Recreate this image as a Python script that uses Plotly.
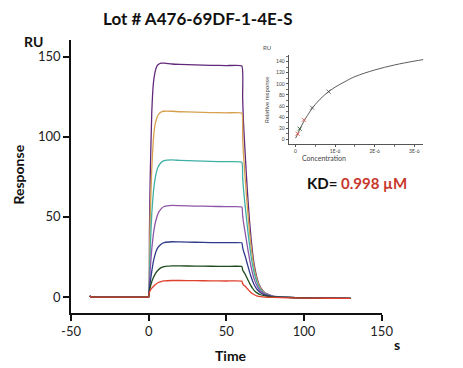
import plotly.graph_objects as go

# ---------------- data ----------------
time = [-38, -37, -20, -1, 0, 0.5, 1, 2, 3, 4, 5, 6, 8, 10, 15, 20, 30, 40, 50, 60,
        60.5, 61, 62, 63, 64, 65, 66, 67, 68, 70, 72, 75, 80, 90, 100, 115, 130]

base = [0.6, 0.0, -0.1, -0.1]
series_names = ["3.33 µM", "1.67 µM", "0.833 µM", "0.417 µM", "0.208 µM", "0.104 µM", "0.052 µM"]
resp_purple = base + [0, 40, 75, 115, 133, 140, 143.5, 145, 146, 146, 145.5, 145.3, 145, 144.7, 144.5, 144.3,
                      125, 110, 92, 75, 60, 47, 36, 27, 20, 11, 6, 2.5, 0.5, -0.3, -0.6, -0.8, -0.9]
resp_orange = base + [0, 25, 50, 80, 98, 107, 111, 113.5, 115.5, 116, 116, 115.7, 115.5, 115.2, 115, 114.8,
                      100, 90, 76, 63, 51, 40, 31, 24, 18, 10, 5.5, 2.2, 0.4, -0.3, -0.6, -0.8, -0.9]
resp_teal = base + [0, 15, 30, 52, 65, 73, 78, 81, 84, 85.2, 85.6, 85.3, 85, 84.7, 84.5, 84.2,
                    75, 68, 58, 49, 40, 32, 25, 19.5, 15, 8.5, 4.8, 2, 0.4, -0.3, -0.6, -0.8, -0.9]
resp_violet = base + [0, 8, 17, 30, 39, 45, 49, 52, 55, 56.5, 57.2, 57, 56.8, 56.6, 56.4, 56.2,
                      51, 47, 41, 35, 29, 23.5, 18.5, 14.5, 11, 6.5, 3.7, 1.6, 0.3, -0.3, -0.6, -0.8, -0.9]
resp_blue = base + [0, 5, 9, 16, 22, 26, 29, 31, 33, 34, 34.5, 34.4, 34.2, 34, 33.9, 33.8,
                    31, 29, 26, 22.5, 19, 15.5, 12.5, 9.8, 7.5, 4.5, 2.6, 1.2, 0.2, -0.3, -0.6, -0.8, -0.9]
resp_green = base + [0, 4, 6, 9.5, 12, 14, 15.5, 16.7, 18.3, 19, 19.4, 19.4, 19.3, 19.2, 19.1, 19,
                     17, 16, 14.5, 12.5, 10.5, 8.5, 6.8, 5.3, 4, 2.4, 1.4, 0.7, 0.1, -0.3, -0.6, -0.8, -0.9]
resp_red = base + [0, 3, 4, 5.5, 6.5, 7.5, 8.3, 8.9, 9.6, 10, 10.3, 10.3, 10.2, 10.1, 10, 9.9,
                   8.5, 7.5, 6.8, 5.8, 4.7, 3.6, 2.7, 2, 1.4, 0.6, 0.2, -0.1, -0.3, -0.5, -0.7, -0.8, -0.9]

# inset: steady-state fit
fit_conc = [0, 0.05e-6, 0.1e-6, 0.2e-6, 0.3e-6, 0.5e-6, 0.75e-6, 1.0e-6, 1.25e-6, 1.5e-6,
            2.0e-6, 2.5e-6, 3.0e-6, 3.25e-6]
fit_resp = [2, 9, 17, 31, 43, 63, 81, 94, 104, 113, 125, 134, 141, 144]
pt_conc = [0.052e-6, 0.104e-6, 0.208e-6, 0.417e-6, 0.833e-6]
pt_resp = [10, 19, 35, 57, 86]

y_ticks = [0, 50, 100, 150]
x_ticks = [-50, 0, 50, 100, 150]
x_tick_labels = ["-50", "0", "50", "100", "150"]
inset_y_ticks = [0, 20, 40, 60, 80, 100, 120, 140]
inset_x_ticks = [0, 1e-6, 2e-6, 3e-6]
inset_x_labels = ["0", "1E-6", "2E-6", "3E-6"]

colors = ["#62287a", "#d6a04e", "#3fb0a6", "#8c55a8", "#2e3a8a", "#1d4a1d", "#e0402c"]
all_resp = [resp_purple, resp_orange, resp_teal, resp_violet, resp_blue, resp_green, resp_red]

# ---------------- layout helpers ----------------
W, H = 463, 368
ML, MR, MT, MB = 71, 20, 40, 55
PW, PH = W - ML - MR, H - MT - MB


def px(x):
    return (x - ML) / PW


def py(y):
    return (H - MB - y) / PH


fig = go.Figure()
for name, r, c in zip(series_names, all_resp, colors):
    fig.add_trace(go.Scatter(x=time, y=r, mode="lines", name=name,
                             line=dict(color=c, width=1.3, shape="spline", smoothing=0.4),
                             xaxis="x", yaxis="y", showlegend=False))

fig.add_trace(go.Scatter(x=fit_conc, y=fit_resp, mode="lines", line=dict(color="#333", width=0.8, shape="spline"),
                         xaxis="x2", yaxis="y2", showlegend=False))
fig.add_trace(go.Scatter(x=pt_conc, y=pt_resp, mode="markers",
                         marker=dict(symbol="x-thin", size=4, line=dict(width=0.8, color=["#e0402c", "#1d4a1d", "#e05050", "#555", "#444"])),
                         xaxis="x2", yaxis="y2", showlegend=False))

font_main = "Lato, 'Open Sans', sans-serif"

fig.update_layout(
    width=W, height=H,
    margin=dict(l=ML, r=MR, t=MT, b=MB),
    paper_bgcolor="white", plot_bgcolor="white",
    font=dict(family=font_main, color="#222", size=13),
    xaxis=dict(domain=[0, px(385)], range=[-50, 150], tickvals=x_ticks, ticktext=x_tick_labels,
               showgrid=False, zeroline=False,
               showline=True, linecolor="#111", linewidth=1.5, ticks="outside", ticklen=6, tickwidth=1.5,
               tickcolor="#111", tickfont=dict(size=13, color="#222")),
    yaxis=dict(domain=[0, 1], range=[-10, 160.5], tickvals=y_ticks, showgrid=False, zeroline=False,
               showline=True, linecolor="#111", linewidth=1.5, ticks="outside", ticklen=6, tickwidth=1.5,
               tickcolor="#111", tickfont=dict(size=13, color="#222")),
    xaxis2=dict(domain=[px(291), px(427)], anchor="y2", range=[-0.175e-6, 3.225e-6],
                tickvals=inset_x_ticks, ticktext=inset_x_labels, showgrid=False, zeroline=False,
                showline=True, linecolor="#555", linewidth=0.8, ticks="outside", ticklen=2, tickwidth=0.6,
                tickcolor="#555", tickfont=dict(size=5, color="#444"),
                minor=dict(dtick=0.5e-6, ticks="outside", ticklen=2, tickcolor="#777", tickwidth=0.5)),
    yaxis2=dict(domain=[py(144), py(55)], anchor="x2", range=[-8.5, 152],
                tickvals=inset_y_ticks, showgrid=False, zeroline=False,
                showline=True, linecolor="#555", linewidth=0.8, ticks="outside", ticklen=2, tickwidth=0.6,
                tickcolor="#555", tickfont=dict(size=5, color="#444"),
                minor=dict(dtick=10, ticks="outside", ticklen=1.5, tickcolor="#777", tickwidth=0.5)),
)

ann = [
    dict(text="<b>Lot # A476-69DF-1-4E-S</b>", x=px(199), y=py(18), size=17, color="#111"),
    dict(text="<b>RU</b>", x=px(33), y=py(41), size=14, color="#111"),
    dict(text="<b>Time</b>", x=px(233), y=py(355), size=14, color="#111"),
    dict(text="<b>s</b>", x=px(401), y=py(344), size=14, color="#111"),
    dict(text="<b>KD= <span style='color:#c8372d'>0.998 µM</span></b>", x=px(360), y=py(183), size=15, color="#111"),
    dict(text="RU", x=px(269), y=py(47), size=6, color="#555"),
    dict(text="Concentration", x=px(327), y=py(158), size=7, color="#444"),
]
for a in ann:
    fig.add_annotation(text=a["text"], x=a["x"], y=a["y"], xref="paper", yref="paper",
                       showarrow=False, xanchor="center", yanchor="middle",
                       font=dict(size=a["size"], color=a["color"], family=font_main))
fig.add_annotation(text="<b>Response</b>", x=px(17), y=py(175), xref="paper", yref="paper", showarrow=False,
                   textangle=-90, xanchor="center", yanchor="middle",
                   font=dict(size=14, color="#111", family=font_main))
fig.add_annotation(text="Relative response", x=px(268), y=py(100), xref="paper", yref="paper", showarrow=False,
                   textangle=-90, xanchor="center", yanchor="middle",
                   font=dict(size=6, color="#444", family=font_main))

fig.write_html("out.html", config={"displayModeBar": False},
               post_script="document.body.style.margin='0';")
